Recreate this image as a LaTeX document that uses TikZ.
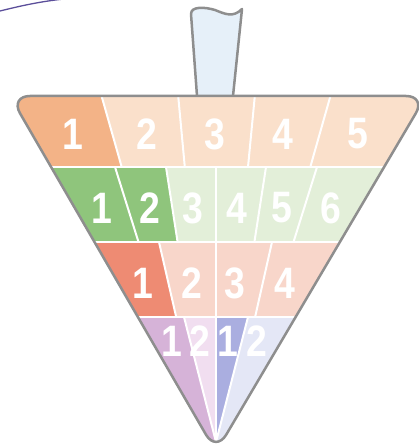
\documentclass[tikz,border=0pt]{standalone}
\usepackage{fontspec}
\newfontfamily\digitfont{Liberation Sans}[FakeStretch=0.85]
\definecolor{bordergray}{HTML}{8E8E8E}
\definecolor{orA}{HTML}{F3B387}
\definecolor{orB}{HTML}{FAE0CB}
\definecolor{grA}{HTML}{8FC57C}
\definecolor{grB}{HTML}{E3EFD9}
\definecolor{rdA}{HTML}{EE8B73}
\definecolor{rdB}{HTML}{F8D6CA}
\definecolor{puA}{HTML}{D6B3D8}
\definecolor{puB}{HTML}{F1DEF0}
\definecolor{blA}{HTML}{AAAEE0}
\definecolor{blB}{HTML}{E4E7F6}
\definecolor{stemfill}{HTML}{E6F0F9}
\definecolor{inkblue}{HTML}{5B4E9A}
\tikzset{
  digit/.style={text=white, inner sep=0pt, font=\digitfont\bfseries\fontsize{44}{44}\selectfont},
  divider/.style={white, line width=2pt},
  rowline/.style={white, line width=2.6pt},
  outline/.style={draw=bordergray, line width=2.5pt, line join=round}
}
\def\funnelpath{(218,96) [rounded corners=20pt] -- (426,96) -- (216,452) -- (10,96) -- cycle}
\begin{document}
\begin{tikzpicture}[x=1pt,y=-1pt]
\useasboundingbox (0,0) rectangle (418,446);
% partial curve at top left
\draw[inkblue, line width=1.3pt] (-2,11.5) .. controls (20,6) and (40,1.5) .. (64,-1);
% stem
\draw[outline, fill=stemfill] (197,96) -- (191,14) .. controls (191,6) and (205,7) .. (215,10) .. controls (225,14) and (233,18) .. (242,9) -- (233,96);
% triangle fill
\begin{scope}
\clip \funnelpath;
% row 1
\fill[orA] (0,90) -- (101,90) -- (101,96) -- (121.7,167) -- (0,167) -- cycle;
\fill[orB] (101,90) -- (101,96) -- (121.7,167) -- (430,167) -- (430,90) -- cycle;
% row 2
\fill[grA] (0,167) -- (166,167) -- (177.6,242) -- (0,242) -- cycle;
\fill[grB] (166,167) -- (430,167) -- (430,242) -- (177.6,242) -- cycle;
% row 3
\fill[rdA] (0,242) -- (159,242) -- (176.2,317) -- (0,317) -- cycle;
\fill[rdB] (159,242) -- (430,242) -- (430,317) -- (176.2,317) -- cycle;
% row 4
\fill[puA] (0,317) -- (184,317) -- (216,442) -- (216,460) -- (0,460) -- cycle;
\fill[puB] (184,317) -- (216,317) -- (216,442) -- cycle;
\fill[blA] (216,317) -- (248,317) -- (216,442) -- cycle;
\fill[blB] (248,317) -- (430,317) -- (430,460) -- (216,460) -- (216,442) -- cycle;
% dividers row 1
\draw[divider] (101,94) -- (121.7,167);
\draw[divider] (178,94) -- (184.8,167);
\draw[divider] (255,94) -- (248,167);
\draw[divider] (331,94) -- (310.3,167);
% dividers row 2
\draw[divider] (115,167) -- (138.5,242);
\draw[divider] (166,167) -- (177.6,242);
\draw[divider] (216,167) -- (216,242);
\draw[divider] (266,167) -- (254.4,242);
\draw[divider] (317,167) -- (293.5,242);
% dividers row 3
\draw[divider] (159,242) -- (176.2,317);
\draw[divider] (216,242) -- (216,317);
\draw[divider] (272,242) -- (255.1,317);
% dividers row 4
\draw[divider] (184,317) -- (216,442);
\draw[divider] (216,317) -- (216,442);
\draw[divider] (248,317) -- (216,442);
% row lines
\draw[rowline] (0,167) -- (430,167);
\draw[rowline] (0,242) -- (430,242);
\draw[rowline] (0,317) -- (430,317);
\end{scope}
% outline
\draw[outline] \funnelpath;
% digits row 1
\node[digit] (r1a) at (73,134) {1};
\node[digit] (r1b) at (147,134) {2};
\node[digit] (r1c) at (215,134) {3};
\node[digit] (r1d) at (283,134) {4};
\node[digit] (r1e) at (358,134) {5};
% digits row 2
\node[digit] (r2a) at (102,208) {1};
\node[digit] (r2b) at (150,208) {2};
\node[digit] (r2c) at (193,208) {3};
\node[digit] (r2d) at (237,208) {4};
\node[digit] (r2e) at (282,208) {5};
\node[digit] (r2f) at (331,208) {6};
% digits row 3
\node[digit] (r3a) at (143,283) {1};
\node[digit] (r3b) at (192,283) {2};
\node[digit] (r3c) at (235,283) {3};
\node[digit] (r3d) at (285,283) {4};
% digits row 4
\node[digit] (r4a) at (172,341) {1};
\node[digit] (r4b) at (200,341) {2};
\node[digit] (r4c) at (228,341) {1};
\node[digit] (r4d) at (257,341) {2};
\end{tikzpicture}
\end{document}
